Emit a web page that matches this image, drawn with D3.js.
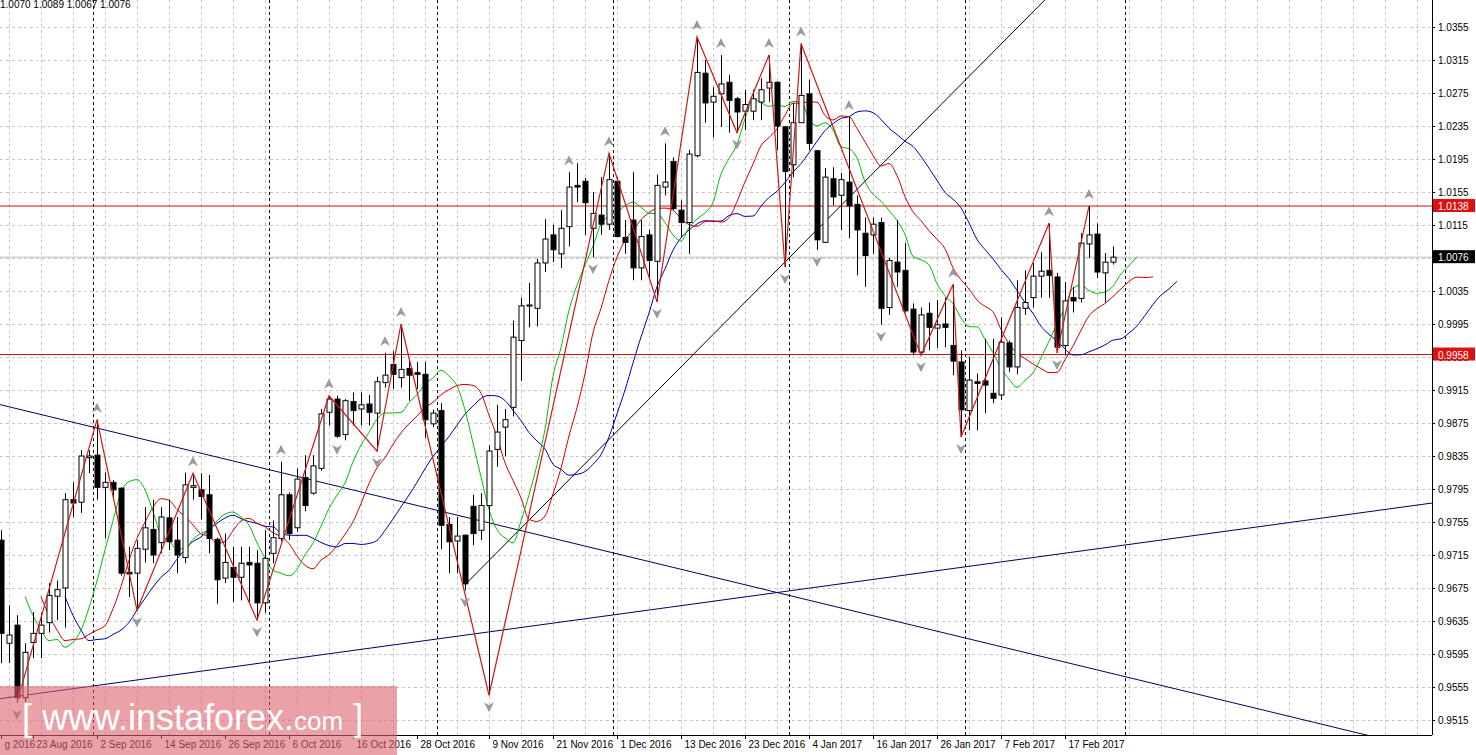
<!DOCTYPE html>
<html><head><meta charset="utf-8">
<script src="https://cdn.jsdelivr.net/npm/d3@7"></script>
<style>body{margin:0;background:#fff}svg{display:block}text{font-family:"Liberation Sans",Arial,sans-serif}</style>
</head><body><svg id="chart" width="1476" height="755"></svg>
<script>
// OHLC, one value per daily bar
const opens = [0.9733,0.9608,0.9630,0.9542,0.9609,0.9620,0.9633,0.9665,0.9675,0.9782,
0.9779,0.9833,0.9836,0.9797,0.9803,0.9796,0.9694,0.9693,0.9722,0.9746,
0.9730,0.9760,0.9733,0.9712,0.9797,0.9794,0.9788,0.9734,0.9687,0.9700,
0.9688,0.9706,0.9705,0.9657,0.9717,0.9735,0.9788,0.9748,0.9809,0.9790,
0.9820,0.9888,0.9904,0.9861,0.9901,0.9892,0.9898,0.9887,0.9924,0.9946,
0.9930,0.9941,0.9936,0.9934,0.9874,0.9890,0.9752,0.9732,0.9739,0.9774,
0.9745,0.9775,0.9843,0.9870,0.9894,0.9975,1.0017,1.0014,1.0069,1.0103,
1.0080,1.0113,1.0163,1.0168,1.0111,1.0127,1.0116,1.0168,1.0100,1.0121,
1.0063,1.0103,1.0071,1.0161,1.0192,1.0133,1.0118,1.0199,1.0299,1.0264,
1.0274,1.0288,1.0268,1.0253,1.0253,1.0264,1.0281,1.0288,1.0234,1.0188,
1.0239,1.0274,1.0205,1.0094,1.0171,1.0151,1.0167,1.0140,1.0105,1.0103,
1.0118,1.0015,1.0070,1.0060,1.0013,0.9961,1.0008,0.9990,0.9995,0.9969,
0.9949,0.9890,0.9925,0.9926,0.9911,0.9909,0.9972,0.9943,1.0014,1.0027,
1.0053,1.0060,1.0052,0.9969,1.0027,1.0026,1.0092,1.0104,1.0057,1.0070];
const highs = [0.9745,0.9654,0.9642,0.9608,0.9646,0.9645,0.9681,0.9684,0.9790,0.9803,
0.9842,0.9842,0.9879,0.9815,0.9806,0.9797,0.9725,0.9733,0.9773,0.9782,
0.9773,0.9782,0.9761,0.9815,0.9814,0.9814,0.9812,0.9736,0.9741,0.9725,
0.9725,0.9725,0.9721,0.9745,0.9757,0.9828,0.9791,0.9820,0.9836,0.9836,
0.9892,0.9908,0.9908,0.9904,0.9912,0.9912,0.9909,0.9931,0.9960,0.9962,
0.9995,0.9953,0.9949,0.9949,0.9891,0.9899,0.9761,0.9761,0.9740,0.9788,
0.9790,0.9848,0.9897,0.9892,0.9999,1.0027,1.0045,1.0074,1.0122,1.0115,
1.0133,1.0179,1.0190,1.0172,1.0155,1.0173,1.0202,1.0173,1.0121,1.0179,
1.0121,1.0109,1.0176,1.0214,1.0197,1.0145,1.0206,1.0343,1.0315,1.0282,
1.0321,1.0297,1.0270,1.0279,1.0279,1.0293,1.0321,1.0289,1.0235,1.0263,
1.0335,1.0291,1.0206,1.0184,1.0185,1.0178,1.0246,1.0151,1.0124,1.0124,
1.0124,1.0075,1.0121,1.0093,1.0020,1.0015,1.0021,1.0024,1.0027,1.0043,
0.9963,0.9955,0.9935,0.9977,0.9977,1.0003,0.9975,1.0048,1.0060,1.0069,
1.0082,1.0117,1.0057,1.0046,1.0040,1.0105,1.0138,1.0117,1.0081,1.0089];
const lows = [0.9584,0.9584,0.9536,0.9537,0.9590,0.9590,0.9621,0.9636,0.9627,0.9761,
0.9766,0.9814,0.9782,0.9735,0.9782,0.9690,0.9664,0.9648,0.9706,0.9705,
0.9717,0.9721,0.9693,0.9705,0.9782,0.9758,0.9717,0.9656,0.9681,0.9658,
0.9660,0.9658,0.9636,0.9645,0.9705,0.9732,0.9733,0.9743,0.9768,0.9788,
0.9817,0.9872,0.9857,0.9854,0.9872,0.9872,0.9872,0.9841,0.9918,0.9916,
0.9918,0.9902,0.9916,0.9857,0.9870,0.9722,0.9693,0.9693,0.9672,0.9727,
0.9733,0.9545,0.9822,0.9835,0.9883,0.9926,0.9991,0.9992,1.0058,1.0070,
1.0063,1.0089,1.0143,1.0103,1.0076,1.0103,1.0109,1.0100,1.0080,1.0048,
1.0048,1.0051,1.0022,1.0151,1.0133,1.0100,1.0080,1.0197,1.0239,1.0221,
1.0234,1.0227,1.0227,1.0230,1.0242,1.0242,1.0264,1.0206,1.0064,1.0173,
1.0239,1.0206,1.0085,1.0093,1.0139,1.0109,1.0099,1.0054,1.0040,1.0080,
0.9994,1.0006,1.0040,1.0009,0.9957,0.9957,0.9963,0.9966,0.9967,0.9933,
0.9858,0.9866,0.9866,0.9887,0.9899,0.9903,0.9937,0.9934,1.0006,1.0015,
1.0027,1.0027,0.9960,0.9957,1.0009,1.0021,1.0075,1.0051,1.0021,1.0067];
const closes = [0.9620,0.9618,0.9542,0.9597,0.9620,0.9630,0.9666,0.9673,0.9782,0.9778,
0.9835,0.9835,0.9797,0.9803,0.9794,0.9693,0.9692,0.9723,0.9748,0.9715,
0.9761,0.9731,0.9715,0.9800,0.9799,0.9786,0.9735,0.9685,0.9706,0.9688,
0.9705,0.9703,0.9657,0.9711,0.9736,0.9788,0.9741,0.9807,0.9775,0.9823,
0.9886,0.9904,0.9859,0.9902,0.9890,0.9897,0.9888,0.9925,0.9933,0.9934,
0.9940,0.9933,0.9934,0.9879,0.9887,0.9751,0.9731,0.9738,0.9680,0.9741,
0.9775,0.9841,0.9864,0.9879,0.9979,1.0017,1.0018,1.0069,1.0098,1.0085,
1.0111,1.0161,1.0161,1.0142,1.0129,1.0116,1.0170,1.0101,1.0094,1.0063,
1.0101,1.0072,1.0163,1.0167,1.0135,1.0118,1.0201,1.0300,1.0263,1.0271,
1.0286,1.0266,1.0252,1.0261,1.0268,1.0279,1.0288,1.0235,1.0180,1.0239,
1.0272,1.0214,1.0097,1.0173,1.0149,1.0170,1.0138,1.0109,1.0078,1.0116,
1.0014,1.0072,1.0058,1.0011,0.9961,1.0006,0.9991,0.9994,0.9991,0.9950,
0.9891,0.9927,0.9923,0.9921,0.9905,0.9973,0.9943,1.0015,1.0021,1.0053,
1.0059,1.0054,0.9967,1.0023,1.0023,1.0093,1.0103,1.0058,1.0070,1.0076];

// zigzag pivots: bar index, 'H' or 'L'
const zigzag = [[2,"L"],[12,"H"],[17,"L"],[24,"H"],[32,"L"],[41,"H"],[47,"L"],[50,"H"],[61,"L"],
  [76,"H"],[82,"L"],[87,"H"],[92,"L"],[96,"H"],[98,"L"],[100,"H"],[115,"L"],[119,"H"],[120,"L"],
  [131,"H"],[132,"L"],[136,"H"]];
const fractalsUp = [12,24,35,41,48,50,71,76,83,87,90,96,100,106,119,131,136];
const fractalsDown = [2,17,32,42,47,58,61,74,82,92,98,102,110,115,120,132];

// trendlines as [bar, price] pairs
const trendlines = [
  [[0, 0.9897], [166.75, 0.9506]],
  [[0, 0.9541], [178.9, 0.9778]],
  [[58, 0.9679], [130.5, 1.0388]]
];
const levels = [1.0138, 0.9958];
const lastPrice = 1.0076;
const header = "1.0070 1.0089 1.0067 1.0076";
const separators = [12, 34, 55, 77, 99, 121, 141];
const dateTicks = [0,4,12,20,28,36,44,52,61,69,77,85,93,101,109,117,125,133];
const dateLabels = ["g 2016","23 Aug 2016","2 Sep 2016","14 Sep 2016","26 Sep 2016","6 Oct 2016",
  "16 Oct 2016","28 Oct 2016","9 Nov 2016","21 Nov 2016","1 Dec 2016","13 Dec 2016","23 Dec 2016",
  "4 Jan 2017","16 Jan 2017","26 Jan 2017","7 Feb 2017","17 Feb 2017"];

const W = 1432, H = 735;
const svg = d3.select("#chart");
const x = d3.scaleLinear().domain([0, 1]).range([1, 9]);
const y = d3.scaleLinear().domain([0.9515, 1.0355]).range([720, 27]);
const priceTicks = d3.range(0, 22).map(k => +(0.9515 + k * 0.004).toFixed(4));

const plot = svg.append("g");
plot.append("defs").append("clipPath").attr("id", "clip")
  .append("rect").attr("width", W).attr("height", H);
const g = plot.append("g").attr("clip-path", "url(#clip)");

// grid
g.selectAll(".hg").data(priceTicks).join("line")
  .attr("x1", 0).attr("x2", W).attr("y1", d => Math.round(y(d)) + .5).attr("y2", d => Math.round(y(d)) + .5)
  .attr("stroke", "#c8c8c8").attr("stroke-dasharray", "3,3");
g.selectAll(".vg").data(d3.range(-1, 46)).join("line")
  .attr("x1", d => x(d * 4) + 8.5).attr("x2", d => x(d * 4) + 8.5).attr("y1", 0).attr("y2", H)
  .attr("stroke", "#c8c8c8").attr("stroke-dasharray", "3,3");
g.selectAll(".sep").data(separators).join("line")
  .attr("x1", d => x(d) - 3.5).attr("x2", d => x(d) - 3.5).attr("y1", 0).attr("y2", H)
  .attr("stroke", "#000").attr("stroke-dasharray", "3,3");

// levels
g.append("line").attr("x1", 0).attr("x2", W).attr("y1", y(lastPrice)).attr("y2", y(lastPrice)).attr("stroke", "#bdbdbd");
g.selectAll(".lvl").data(levels).join("line")
  .attr("x1", 0).attr("x2", W).attr("y1", d => y(d)).attr("y2", d => y(d)).attr("stroke", "#d01010");

// trendlines extended to the edges
trendlines.forEach(([a, b]) => {
  const s = (b[1] - a[1]) / (b[0] - a[0]);
  const i0 = a[0] === 58 ? a[0] : -2, i1 = 185;
  g.append("line").attr("x1", x(i0)).attr("y1", y(a[1] + (i0 - a[0]) * s))
    .attr("x2", x(i1)).attr("y2", y(a[1] + (i1 - a[0]) * s))
    .attr("stroke", a[0] === 58 ? "#000" : "#000060").attr("stroke-width", 1);
});

// alligator lines (moving average of median price, shifted forward)
const median = highs.map((h, i) => (h + lows[i]) / 2);
function sma(n) {
  return median.map((m, i) => d3.mean(median.slice(Math.max(0, i - n + 1), i + 1)));
}
[[13, 8, "#0000b0"], [8, 5, "#d00000"], [5, 3, "#00c000"]].forEach(([n, sh, col]) => {
  g.append("path").datum(sma(n))
    .attr("d", d3.line().curve(d3.curveMonotoneX).x((d, i) => x(i + sh)).y(d => y(d)))
    .attr("fill", "none").attr("stroke", col).attr("stroke-width", 1);
});

// candles
const bars = opens.map((o, i) => ({ i, o, h: highs[i], l: lows[i], c: closes[i] }));
g.selectAll(".wick").data(bars).join("line")
  .attr("x1", d => Math.round(x(d.i)) + .5).attr("x2", d => Math.round(x(d.i)) + .5)
  .attr("y1", d => y(d.h)).attr("y2", d => y(d.l)).attr("stroke", "#000");
g.selectAll(".body").data(bars).join("rect")
  .attr("x", d => Math.round(x(d.i)) - 2).attr("width", 5)
  .attr("y", d => y(Math.max(d.o, d.c)))
  .attr("height", d => Math.max(1, Math.abs(y(d.o) - y(d.c))))
  .attr("fill", d => d.c >= d.o ? "#fff" : "#000").attr("stroke", "#000").attr("stroke-width", 1);

// zigzag
g.append("path").datum(zigzag)
  .attr("d", d3.line().x(d => x(d[0])).y(d => y(d[1] === "H" ? highs[d[0]] : lows[d[0]])))
  .attr("fill", "none").attr("stroke", "#d01818").attr("stroke-width", 1.2);

// fractal arrows
const up = "M0,-7 L5,3 L0,0 L-5,3 Z", down = "M0,7 L5,-3 L0,0 L-5,-3 Z";
g.selectAll(".fu").data(fractalsUp).join("path")
  .attr("transform", i => `translate(${x(i)},${y(highs[i]) - 10})`).attr("d", up).attr("fill", "#9a9a9a");
g.selectAll(".fd").data(fractalsDown).join("path")
  .attr("transform", i => `translate(${x(i)},${y(lows[i]) + 10})`).attr("d", down).attr("fill", "#9a9a9a");

// axes
svg.append("line").attr("x1", W + .5).attr("x2", W + .5).attr("y1", 0).attr("y2", H).attr("stroke", "#000");
svg.append("line").attr("x1", 0).attr("x2", W).attr("y1", H + .5).attr("y2", H + .5).attr("stroke", "#000");
const yAxis = svg.append("g").attr("transform", `translate(${W},0)`)
  .call(d3.axisRight(y).tickValues(priceTicks).tickFormat(d3.format(".4f")).tickSize(3));
yAxis.select(".domain").remove();
yAxis.selectAll("text").attr("font-size", 10).attr("x", 6).attr("fill", "#000");

const xAxis = svg.append("g").attr("transform", `translate(0,${H})`)
  .call(d3.axisBottom(x).tickValues(dateTicks).tickFormat((d, k) => dateLabels[k]).tickSize(4));
xAxis.select(".domain").remove();
xAxis.selectAll("text").attr("font-size", 10).attr("text-anchor", "start").attr("dx", 3).attr("y", 6).attr("fill", "#000");

// price tags
function tag(p, bg) {
  const t = svg.append("g").attr("transform", `translate(${W + 1},${y(p)})`);
  t.append("rect").attr("x", 0).attr("y", -7).attr("width", 42).attr("height", 13).attr("fill", bg);
  t.append("text").attr("x", 5).attr("y", 4).attr("font-size", 10).attr("fill", "#fff").text(p.toFixed(4));
}
levels.forEach(p => tag(p, "#e01010"));
tag(lastPrice, "#000");

svg.append("text").attr("x", 0).attr("y", 8).attr("font-size", 10).text(header);

// watermark
svg.append("rect").attr("x", 0).attr("y", 686).attr("width", 397).attr("height", 69)
  .attr("fill", "rgb(220,100,110)").attr("opacity", 0.6);
const wm = svg.append("text").attr("x", 22).attr("y", 730).attr("fill", "#fff").attr("font-size", 36);
wm.append("tspan").text("[ www.instaforex.");
wm.append("tspan").attr("font-size", 26).text("com");
wm.append("tspan").text(" ]");
</script></body></html>
